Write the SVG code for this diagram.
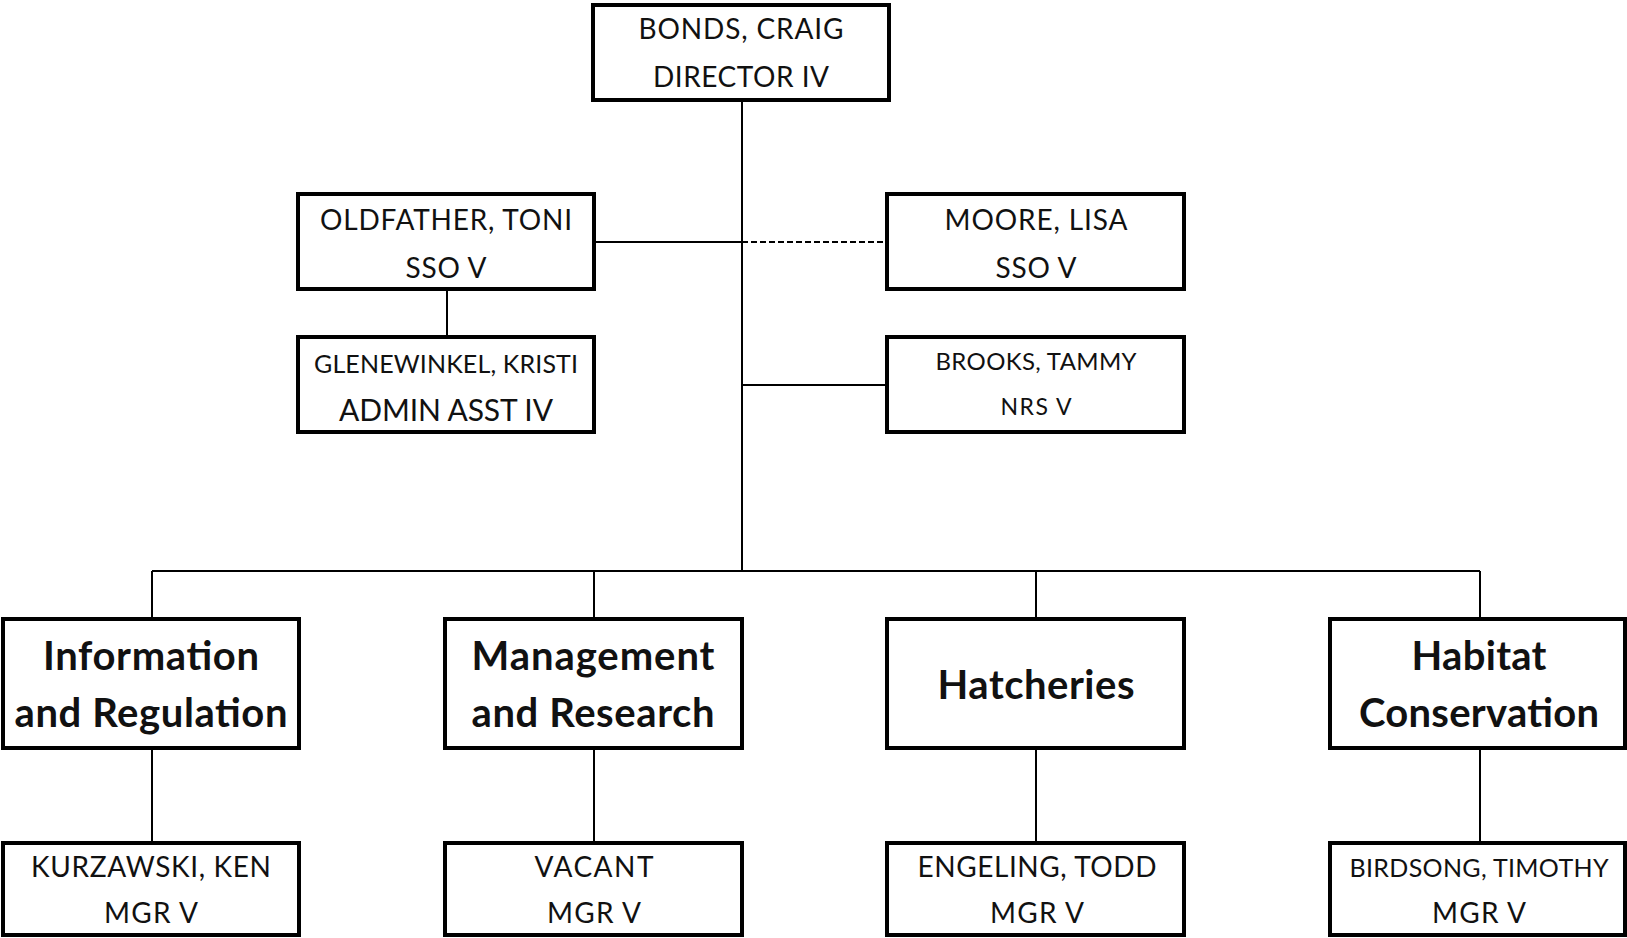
<svg xmlns="http://www.w3.org/2000/svg" width="1627" height="938" viewBox="0 0 1627 938">
<style>
.box{fill:#fff;stroke:#000;stroke-width:4}
.ln{stroke:#000;stroke-width:2;fill:none}
.dash{stroke:#000;stroke-width:2;fill:none;stroke-dasharray:6 3}
text{font-family:Lato,"Liberation Sans",sans-serif;fill:#111;text-anchor:middle}
.n{font-size:28px}
.b{font-size:40px;font-weight:bold}
</style>
<rect width="1627" height="938" fill="#fff"/>
<g id="connectors">
<line class="ln" x1="742" y1="100" x2="742" y2="571"/>
<line class="ln" x1="594" y1="242" x2="742" y2="242"/>
<line class="dash" x1="742" y1="242" x2="887" y2="242"/>
<line class="ln" x1="447" y1="289" x2="447" y2="337"/>
<line class="ln" x1="742" y1="385" x2="887" y2="385"/>
<line class="ln" x1="152" y1="571" x2="1480" y2="571"/>
<line class="ln" x1="152" y1="571" x2="152" y2="619"/>
<line class="ln" x1="594" y1="571" x2="594" y2="619"/>
<line class="ln" x1="1036" y1="571" x2="1036" y2="619"/>
<line class="ln" x1="1480" y1="571" x2="1480" y2="619"/>
<line class="ln" x1="152" y1="748" x2="152" y2="843"/>
<line class="ln" x1="594" y1="748" x2="594" y2="843"/>
<line class="ln" x1="1036" y1="748" x2="1036" y2="843"/>
<line class="ln" x1="1480" y1="748" x2="1480" y2="843"/>
</g>
<g id="bonds"><rect class="box" x="593" y="5" width="296" height="95"/>
<text class="n" x="741" y="39" textLength="205">BONDS, CRAIG</text><text class="n" x="741" y="87" textLength="176">DIRECTOR IV</text></g>
<g id="oldfather"><rect class="box" x="298" y="194" width="296" height="95"/>
<text class="n" x="446" y="230" textLength="252">OLDFATHER, TONI</text><text class="n" x="446" y="278" textLength="81">SSO V</text></g>
<g id="moore"><rect class="box" x="887" y="194" width="297" height="95"/>
<text class="n" x="1036" y="230" textLength="183">MOORE, LISA</text><text class="n" x="1036" y="278" textLength="81">SSO V</text></g>
<g id="glenewinkel"><rect class="box" x="298" y="337" width="296" height="95"/>
<text x="446" y="373" font-size="25" textLength="264">GLENEWINKEL, KRISTI</text><text x="446" y="421" font-size="30" textLength="214">ADMIN ASST IV</text></g>
<g id="brooks"><rect class="box" x="887" y="337" width="297" height="95"/>
<text x="1036" y="370" font-size="24" textLength="201">BROOKS, TAMMY</text><text x="1036" y="415" font-size="23" textLength="71">NRS V</text></g>
<g id="info"><rect class="box" x="3" y="619" width="296" height="129"/>
<text class="b" x="151" y="670" textLength="216">Information</text><text class="b" x="151" y="727" textLength="273">and Regulation</text></g>
<g id="mgmt"><rect class="box" x="445" y="619" width="297" height="129"/>
<text class="b" x="593" y="670" textLength="243">Management</text><text class="b" x="593" y="727" textLength="243">and Research</text></g>
<g id="hatch"><rect class="box" x="887" y="619" width="297" height="129"/>
<text class="b" x="1036" y="699" textLength="197">Hatcheries</text></g>
<g id="habitat"><rect class="box" x="1330" y="619" width="295" height="129"/>
<text class="b" x="1479" y="670" textLength="135">Habitat</text><text class="b" x="1479" y="727" textLength="240">Conservation</text></g>
<g id="kurzawski"><rect class="box" x="3" y="843" width="296" height="92"/>
<text class="n" x="151" y="877" textLength="240">KURZAWSKI, KEN</text><text class="n" x="151" y="923" textLength="94">MGR V</text></g>
<g id="vacant"><rect class="box" x="445" y="843" width="297" height="92"/>
<text class="n" x="594" y="877" textLength="119">VACANT</text><text class="n" x="594" y="923" textLength="94">MGR V</text></g>
<g id="engeling"><rect class="box" x="887" y="843" width="297" height="92"/>
<text class="n" x="1037" y="877" textLength="239">ENGELING, TODD</text><text class="n" x="1037" y="923" textLength="94">MGR V</text></g>
<g id="birdsong"><rect class="box" x="1330" y="843" width="295" height="92"/>
<text x="1479" y="877" font-size="25" textLength="259">BIRDSONG, TIMOTHY</text><text class="n" x="1479" y="923" textLength="94">MGR V</text></g>
</svg>
